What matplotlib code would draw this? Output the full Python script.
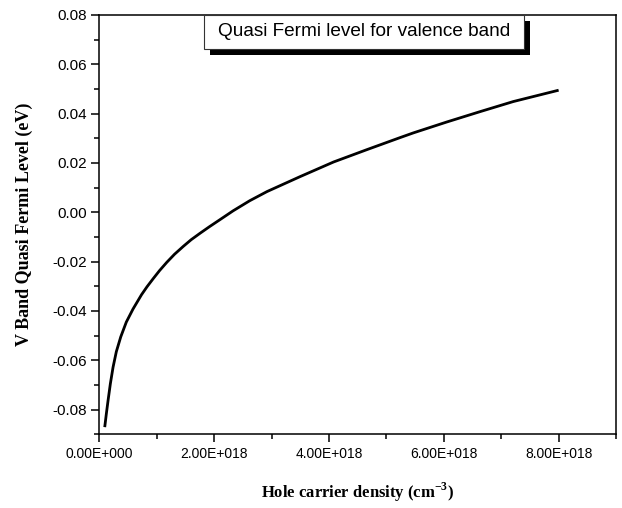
import numpy as np
import matplotlib.pyplot as plt
from matplotlib.patches import Rectangle
from matplotlib.ticker import FuncFormatter, MultipleLocator

plt.rcParams['mathtext.fontset'] = 'custom'
plt.rcParams['mathtext.rm'] = 'Liberation Serif:bold'
plt.rcParams['mathtext.bf'] = 'Liberation Serif:bold'

# hole density (units of 1e18 cm^-3) and valence band quasi Fermi level (eV)
density = [0.094, 0.122, 0.152, 0.192, 0.239, 0.296, 0.373, 0.470, 0.587, 0.735,
           0.83, 0.938, 1.05, 1.174, 1.31, 1.463, 1.60, 1.754, 1.92, 2.10,
           2.33, 2.62, 2.92, 3.50, 4.08, 4.66, 5.24, 5.47, 6.05, 6.63,
           7.21, 8.0]
fermi = [-0.0871, -0.0817, -0.0763, -0.0695, -0.0628, -0.0565, -0.0505, -0.0445,
         -0.0392, -0.0334, -0.0302, -0.0269, -0.0236, -0.0203, -0.0170, -0.0138,
         -0.0111, -0.0085, -0.0058, -0.0030, 0.0006, 0.0047, 0.0084, 0.0145,
         0.0204, 0.0254, 0.0303, 0.0322, 0.0366, 0.0408, 0.0449, 0.0495]

x_ticks = [0, 2e18, 4e18, 6e18, 8e18]

n = np.array(density) * 1e18

fig = plt.figure(figsize=(6.22, 5.08), dpi=100)
ax = fig.add_axes([0.1597, 0.1451, 0.8307, 0.8254])

ax.plot(n, fermi, color='black', lw=2.0, solid_joinstyle='round',
        solid_capstyle='butt')

ax.set_xlim(0, 9e18)
ax.set_ylim(-0.09, 0.08)
ax.set_xticks(x_ticks)
ax.xaxis.set_minor_locator(MultipleLocator(1e18))
ax.yaxis.set_major_locator(MultipleLocator(0.02))
ax.yaxis.set_minor_locator(MultipleLocator(0.01))


def sci_fmt(v, pos):
    if v == 0:
        return '0.00E+000'
    e = int(np.floor(np.log10(abs(v))))
    return f'{v / 10**e:.2f}E+{e:03d}'


ax.xaxis.set_major_formatter(FuncFormatter(sci_fmt))
ax.yaxis.set_major_formatter(FuncFormatter(lambda v, p: f'{v:.2f}'))

for s in ax.spines.values():
    s.set_linewidth(1.1)
ax.tick_params(which='both', direction='out', top=False, right=False, width=1.1)
ax.tick_params(which='major', length=6, pad=3)
ax.tick_params(which='minor', length=3.5)
for lab in ax.get_xticklabels():
    lab.set_family('Liberation Sans')
    lab.set_fontsize(10)
for lab in ax.get_yticklabels():
    lab.set_family('Liberation Sans')
    lab.set_fontsize(11)

ax.set_xlabel(r'Hole carrier density (cm$^{\mathrm{-3}}$)', family='Liberation Serif',
              fontweight='bold', fontsize=12, labelpad=14)
ax.set_ylabel('V Band Quasi Fermi Level (eV)', family='Liberation Serif',
              fontweight='bold', fontsize=13, labelpad=14)

# label box with drop shadow
bx0, bx1, by0, by1 = 0.2026, 0.822, 0.919, 1.0
ax.add_patch(Rectangle((bx0 + 0.011, by0 - 0.014), bx1 - bx0, by1 - by0,
                       transform=ax.transAxes, facecolor='black',
                       edgecolor='none', zorder=4, clip_on=False))
ax.add_patch(Rectangle((bx0, by0), bx1 - bx0, by1 - by0,
                       transform=ax.transAxes, facecolor='white',
                       edgecolor='#333333', lw=0.8, zorder=5, clip_on=False))
ax.text((bx0 + bx1) / 2, (by0 + by1) / 2, 'Quasi Fermi level for valence band',
        transform=ax.transAxes, ha='center', va='center',
        family='Liberation Sans', fontsize=13.7, zorder=6)

fig.savefig('out.png', dpi=100)
